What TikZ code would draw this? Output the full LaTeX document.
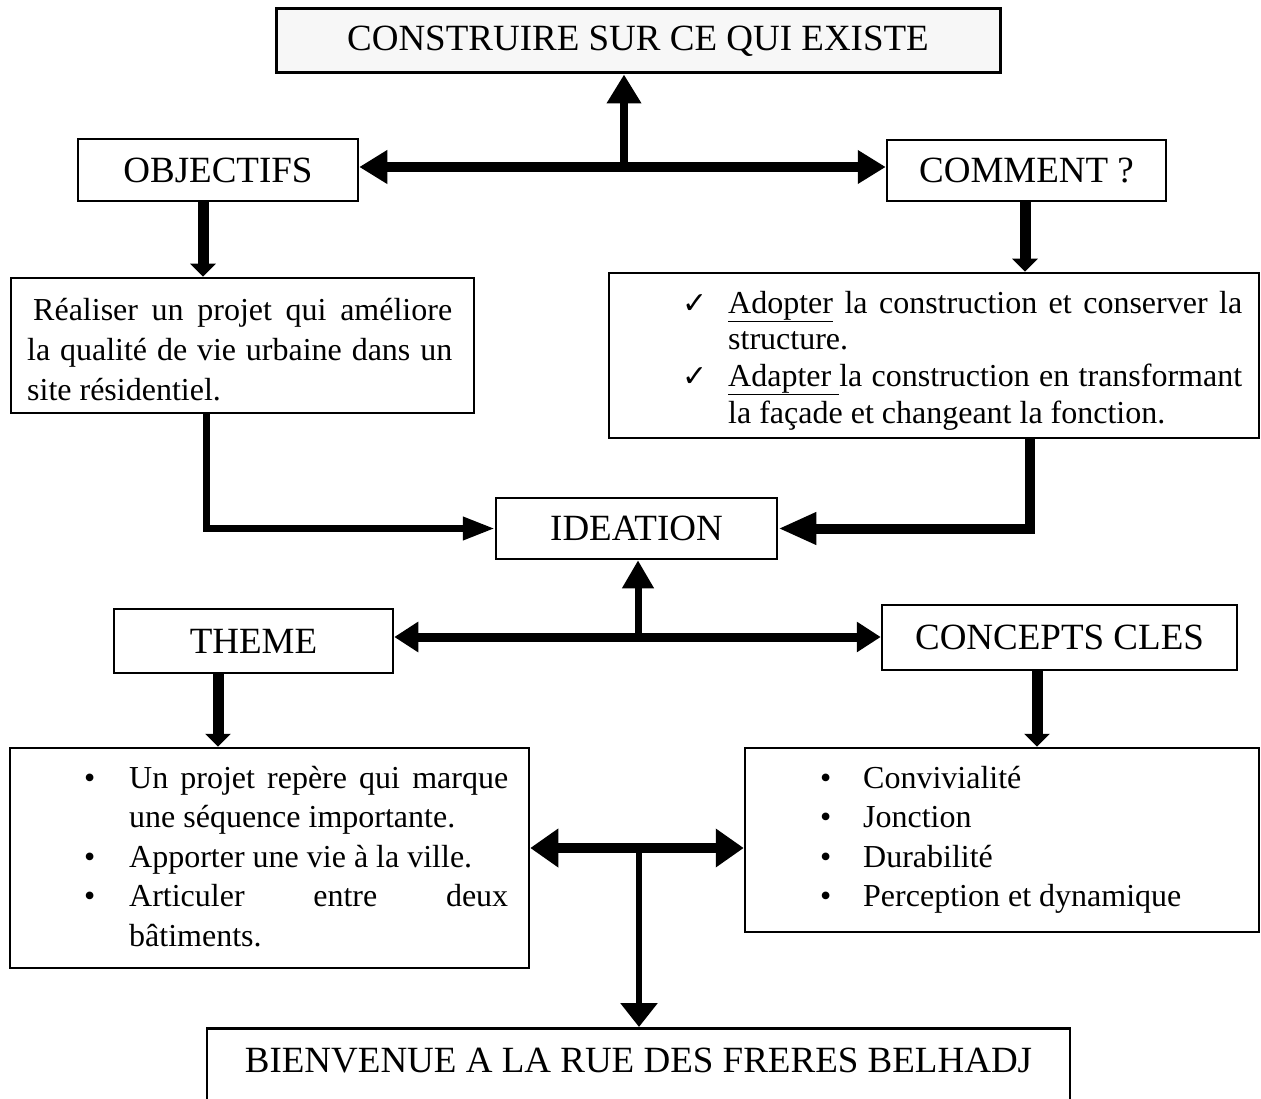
\documentclass[tikz,border=0pt]{standalone}
\usepackage{fontspec}
\setmainfont{Liberation Serif}
\newfontfamily\symbfont{DejaVu Sans}
\usetikzlibrary{arrows.meta}
\definecolor{paper}{HTML}{F7F7F7}
\newcommand{\headsize}{\fontsize{37}{44}\selectfont}
\newcommand{\bodysize}{\fontsize{32}{39.5}\selectfont\tolerance=10000\hyphenpenalty=10000}
\newcommand{\puce}[1]{\noindent\hangindent=#1\hangafter=1\makebox[#1][l]{\fontsize{32}{32}\selectfont •}}
\newcommand{\coche}[1]{\noindent\hangindent=#1\hangafter=1\makebox[#1][l]{\symbfont\fontsize{30}{30}\selectfont ✓}}

\begin{document}
\begin{tikzpicture}[x=1pt,y=-1pt,
    headbox/.style={draw,line width=2.5pt,font=\headsize,inner sep=0pt},
    listbox/.style={draw,line width=2.5pt,inner sep=0pt},
    listtext/.style={font=\bodysize,align=justify,inner sep=0pt,anchor=base west},
    arr/.style n args={3}{line width=#1,-{Triangle[length=#2,width=#3]}},
    dbl/.style n args={3}{line width=#1,{Triangle[length=#2,width=#3]}-{Triangle[length=#2,width=#3]}}]
    \useasboundingbox (0,0) rectangle (1261,1099);
    % boxes
    \node[headbox,fill=paper,line width=3pt,minimum width=724pt,minimum height=64pt] (titre) at (638,41) {CONSTRUIRE SUR CE QUI EXISTE};
    \node[headbox,minimum width=280pt,minimum height=62pt] (objectifs) at (218,170) {OBJECTIFS};
    \node[headbox,minimum width=279pt,minimum height=61pt] (comment) at (1026.5,170.5) {COMMENT ?};
    \node[listbox,minimum width=463pt,minimum height=135pt] (realiser) at (242.5,345.5) {};
    \node[listtext,text width=425pt] (realisertxt) at (27,321) {\hspace*{6pt}Réaliser un projet qui améliore\linebreak la qualité de vie urbaine dans un\linebreak site résidentiel.};
    \node[listbox,minimum width=650pt,minimum height=165pt] (adopter) at (934,355.5) {};
    \node[listtext,text width=560pt,font=\fontsize{32}{36.7}\selectfont] (adoptertxt) at (682,313) {\coche{46pt}\underline{Adopter} la construction et conserver la\linebreak structure.\par
      \coche{46pt}\underline{Adapter\ }la construction en transformant\linebreak la façade et changeant la fonction.\par};
    \node[headbox,minimum width=281pt,minimum height=61pt] (ideation) at (636.5,528.5) {IDEATION};
    \node[headbox,minimum width=279pt,minimum height=64pt] (theme) at (253.5,641) {THEME};
    \node[headbox,minimum width=355pt,minimum height=65pt] (concepts) at (1059.5,637.5) {CONCEPTS CLES};
    \node[listbox,minimum width=519pt,minimum height=220pt] (themeliste) at (269.5,858) {};
    \node[listtext,text width=424pt] (themetxt) at (84,788) {\puce{45pt}Un projet repère qui marque\linebreak une séquence importante.\par
      \puce{45pt}Apporter une vie à la ville.\par
      \puce{45pt}Articuler entre deux\linebreak bâtiments.\par};
    \node[listbox,minimum width=514pt,minimum height=184pt] (conceptsliste) at (1002,840) {};
    \node[listtext,text width=420pt] (conceptstxt) at (820,788) {\puce{43pt}Convivialité\par
      \puce{43pt}Jonction\par
      \puce{43pt}Durabilité\par
      \puce{43pt}Perception et dynamique\par};
    \node[headbox,anchor=north,minimum width=863pt,inner ysep=20pt,text depth=50pt] (bienvenue) at (638.5,1027) {BIENVENUE A LA RUE DES FRERES BELHADJ};
    % connectors
    \coordinate (hautT) at (624,167);
    \draw[dbl={10pt}{28pt}{32pt}] (objectifs.east |- hautT) -- (comment.west |- hautT);
    \draw[arr={8pt}{29pt}{33pt}] (hautT) -- (titre.south -| hautT);
    \draw[arr={11pt}{13pt}{25pt}] (objectifs.south -| 203,0) -- (realiser.north -| 203,0);
    \draw[arr={11pt}{13pt}{25pt}] (comment.south -| 1025,0) -- (adopter.north -| 1025,0);
    \draw[arr={7pt}{32pt}{22pt}] (realiser.south -| 206,0) |- (ideation.west);
    \draw[arr={10pt}{38pt}{30pt}] (adopter.south -| 1030,0) |- (ideation.east);
    \coordinate (milT) at (638,637);
    \draw[arr={7pt}{28pt}{30pt}] (milT) -- (ideation.south -| milT);
    \draw[dbl={9pt}{24pt}{29pt}] (theme.east |- milT) -- (concepts.west |- milT);
    \draw[arr={11pt}{13pt}{25pt}] (theme.south -| 218,0) -- (themeliste.north -| 218,0);
    \draw[arr={11pt}{13pt}{25pt}] (concepts.south -| 1037,0) -- (conceptsliste.north -| 1037,0);
    \coordinate (basT) at (639,848);
    \draw[dbl={10pt}{28pt}{37pt}] (themeliste.east |- basT) -- (conceptsliste.west |- basT);
    \draw[arr={6pt}{24pt}{36pt}] (basT) -- (bienvenue.north -| basT);
\end{tikzpicture}
\end{document}
